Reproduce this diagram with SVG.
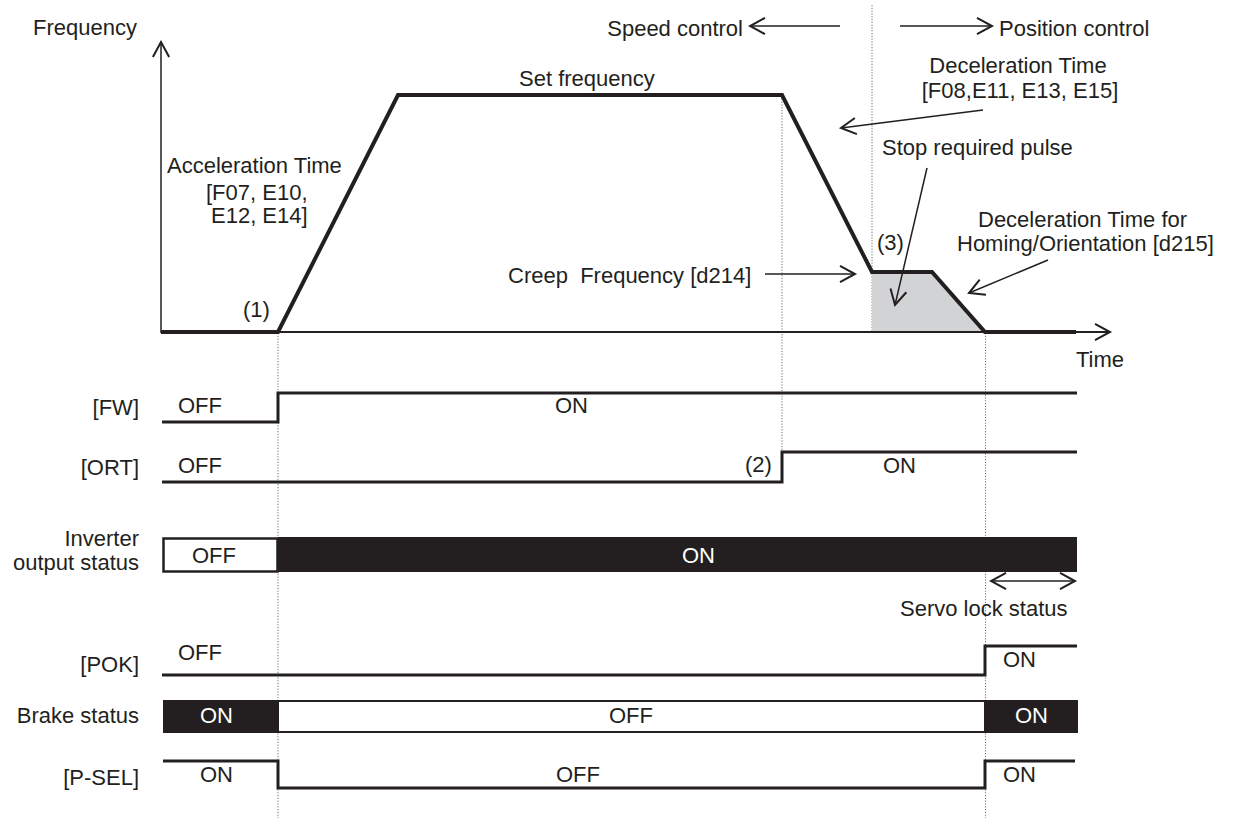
<svg xmlns="http://www.w3.org/2000/svg" width="1237" height="821" viewBox="0 0 1237 821">
<style>
text{font-family:"Liberation Sans",Arial,sans-serif;font-size:22px;fill:#231f20;white-space:pre}
.w{fill:#ffffff}
.e{text-anchor:end}
.m{text-anchor:middle}
.ln{fill:none;stroke:#231f20;stroke-linejoin:miter}
.thin{fill:none;stroke:#231f20;stroke-width:1.5}
.dot{fill:none;stroke:#6d6e71;stroke-width:1;stroke-dasharray:1.2 1.6}
.sig{fill:none;stroke:#231f20;stroke-width:3}
.blk{fill:#231f20}
</style>
<defs>
<marker id="ah" markerUnits="userSpaceOnUse" markerWidth="20" markerHeight="20" refX="0" refY="0" viewBox="-14 -8 16 16" orient="auto">
<path d="M-12,-6.5 L0,0 L-12,6.5" fill="none" stroke="#231f20" stroke-width="1.6"/>
</marker>
<marker id="ahs" markerUnits="userSpaceOnUse" markerWidth="20" markerHeight="20" refX="0" refY="0" viewBox="-14 -8 16 16" orient="auto-start-reverse">
<path d="M-12,-6.5 L0,0 L-12,6.5" fill="none" stroke="#231f20" stroke-width="1.6"/>
</marker>
</defs>
<rect width="1237" height="821" fill="#ffffff"/>

<g id="guides">
<line class="dot" x1="278" y1="333" x2="278" y2="818"/>
<line class="dot" x1="782" y1="96" x2="782" y2="452"/>
<line class="dot" x1="872" y1="5" x2="872" y2="332"/>
<line class="dot" x1="985.5" y1="333" x2="985.5" y2="818"/>
</g>

<g id="freq-chart">
<polygon points="872,272 932,272 985,332 872,332" fill="#d1d3d4"/>
<line class="ln" x1="161" y1="332" x2="1110" y2="332" stroke-width="2" marker-end="url(#ah)"/>
<line class="thin" x1="161" y1="333" x2="161" y2="42" marker-end="url(#ah)"/>
<polyline class="ln" stroke-width="4" points="161,332 278,332 398,95 782,95 872,272 932,272 985,332 1076,332"/>
<text x="33" y="35">Frequency</text>
<text x="1076" y="367">Time</text>
<text x="519" y="86">Set frequency</text>
<text x="167" y="173">Acceleration Time</text>
<text x="206" y="200">[F07, E10,</text>
<text x="211" y="223">E12, E14]</text>
<text x="243" y="317">(1)</text>
<text x="877" y="250">(3)</text>
</g>

<g id="connectors">
<line class="thin" x1="840" y1="26" x2="750" y2="26" marker-end="url(#ah)"/>
<line class="thin" x1="900" y1="26" x2="992" y2="26" marker-end="url(#ah)"/>
<line class="thin" x1="983" y1="110" x2="841" y2="128" marker-end="url(#ah)"/>
<line class="thin" x1="927" y1="168" x2="895" y2="305" marker-end="url(#ah)"/>
<line class="thin" x1="765" y1="274" x2="855" y2="274" marker-end="url(#ah)"/>
<line class="thin" x1="1048" y1="260" x2="969" y2="293" marker-end="url(#ah)"/>
<line class="thin" x1="991" y1="581" x2="1075" y2="581" marker-start="url(#ahs)" marker-end="url(#ah)"/>
</g>

<g id="annotations">
<text class="e" x="743" y="36">Speed control</text>
<text x="999" y="36">Position control</text>
<text class="m" x="1018" y="73">Deceleration Time</text>
<text class="m" x="1020" y="98">[F08,E11, E13, E15]</text>
<text x="882" y="155">Stop required pulse</text>
<text x="978" y="227">Deceleration Time for</text>
<text x="957" y="251">Homing/Orientation [d215]</text>
<text x="508" y="283">Creep  Frequency [d214]</text>
<text x="900" y="616">Servo lock status</text>
</g>

<g id="sig-fw">
<text class="e" x="139" y="415">[FW]</text>
<polyline class="sig" points="162,422 278,422 278,393 1077,393"/>
<text x="178" y="413">OFF</text>
<text x="555" y="413">ON</text>
</g>

<g id="sig-ort">
<text class="e" x="139" y="475">[ORT]</text>
<polyline class="sig" points="162,482 782,482 782,452 1077,452"/>
<text x="178" y="473">OFF</text>
<text x="745" y="472">(2)</text>
<text x="883" y="473">ON</text>
</g>

<g id="sig-inverter">
<text class="e" x="139" y="546">Inverter</text>
<text class="e" x="139" y="570">output status</text>
<rect x="163.5" y="538.5" width="114" height="33" fill="#ffffff" stroke="#231f20" stroke-width="2.5"/>
<rect class="blk" x="278" y="537" width="799" height="35"/>
<text x="192" y="563">OFF</text>
<text class="w" x="682" y="563">ON</text>
</g>

<g id="sig-pok">
<text class="e" x="139" y="672">[POK]</text>
<polyline class="sig" points="162,675 985,675 985,646 1077,646"/>
<text x="178" y="660">OFF</text>
<text x="1003" y="667">ON</text>
</g>

<g id="sig-brake">
<text class="e" x="139" y="723">Brake status</text>
<rect class="blk" x="163" y="700" width="115" height="33"/>
<rect x="278" y="701" width="707" height="31" fill="#ffffff" stroke="#231f20" stroke-width="2"/>
<rect class="blk" x="985" y="700" width="93" height="33"/>
<text class="w" x="200" y="723">ON</text>
<text x="609" y="723">OFF</text>
<text class="w" x="1015" y="723">ON</text>
</g>

<g id="sig-psel">
<text class="e" x="139" y="785">[P-SEL]</text>
<polyline class="sig" stroke-width="2.2" points="163,761 278,761 278,788 985,788 985,761 1075,761"/>
<text x="200" y="782">ON</text>
<text x="556" y="782">OFF</text>
<text x="1003" y="782">ON</text>
</g>
</svg>
